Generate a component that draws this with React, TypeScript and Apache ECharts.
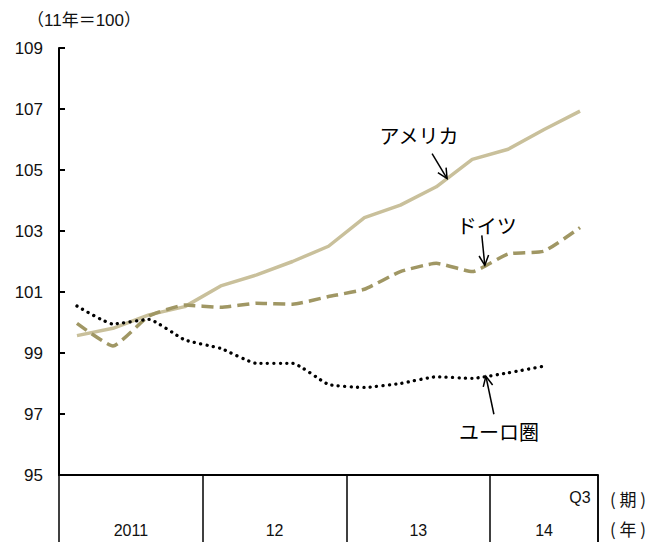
import React, { useEffect, useRef } from "react";
import * as echarts from "echarts";

// Quarterly index (2011 = 100), 2011Q1 .. 2014Q3
const quarters = [
  "Q1", "Q2", "Q3", "Q4",
  "Q1", "Q2", "Q3", "Q4",
  "Q1", "Q2", "Q3", "Q4",
  "Q1", "Q2", "Q3",
];
const years = ["2011", "12", "13", "14"];
const yearQuarterCount = [4, 4, 4, 3];

const usa = [99.57, 99.81, 100.25, 100.52, 101.2, 101.56, 102.0, 102.5, 103.44, 103.85, 104.45, 105.35, 105.68, 106.33, 106.93];
const germany = [99.97, 99.23, 100.21, 100.57, 100.5, 100.63, 100.6, 100.85, 101.09, 101.67, 101.94, 101.67, 102.25, 102.34, 103.11];
const euroArea = [100.54, 99.95, 100.1, 99.43, 99.15, 98.66, 98.66, 97.97, 97.87, 98.0, 98.22, 98.17, 98.35, 98.57];

const yMin = 95;
const yMax = 109;
const yStep = 2;

const FONT = "'Liberation Sans', 'Noto Sans CJK JP', sans-serif";
const JP_FONT = "'Noto Sans CJK JP', 'Liberation Sans', sans-serif";
const USA_COLOR = "#c9c09b";
const GER_COLOR = "#a09764";

export default function App() {
  const ref = useRef<HTMLDivElement>(null);

  useEffect(() => {
    if (!ref.current) return;
    const chart = echarts.init(ref.current, null, { renderer: "svg" });

    chart.setOption({
      animation: false,
      grid: { left: 59, right: 49, top: 48, bottom: 67, containLabel: false },
      xAxis: {
        type: "category",
        data: quarters,
        boundaryGap: true,
        axisLine: { show: true, lineStyle: { color: "#000", width: 2 } },
        axisTick: {
          show: true,
          inside: false,
          length: 70,
          interval: (i: number) => i % 4 === 0,
          lineStyle: { color: "#000", width: 1.5 },
        },
        axisLabel: {
          show: true,
          interval: (i: number) => i === quarters.length - 1,
          margin: 14,
          fontSize: 16,
          color: "#111",
          fontFamily: FONT,
        },
        splitLine: { show: false },
      },
      yAxis: {
        type: "value",
        min: yMin,
        max: yMax,
        interval: yStep,
        axisLine: { show: true, lineStyle: { color: "#000", width: 2 } },
        axisTick: { show: true, inside: true, length: 6, lineStyle: { color: "#000", width: 2 } },
        axisLabel: { fontSize: 17, color: "#111", margin: 16, fontFamily: FONT },
        splitLine: { show: false },
      },
      series: [
        {
          name: "アメリカ",
          type: "line",
          data: usa,
          symbol: "none",
          lineStyle: { color: USA_COLOR, width: 3.5 },
          z: 3,
        },
        {
          name: "ドイツ",
          type: "line",
          data: germany,
          symbol: "none",
          smooth: 0.15,
          lineStyle: { color: GER_COLOR, width: 3.5, type: [12, 6] },
          z: 4,
        },
        {
          name: "ユーロ圏",
          type: "line",
          data: euroArea,
          symbol: "none",
          smooth: 0.15,
          lineStyle: { color: "#000", width: 3.3, type: [0.1, 6.3], cap: "round" },
          z: 5,
        },
      ],
    });

    // pixel position along a series at a fractional category index
    const along = (series: number[], f: number): number[] => {
      const i = Math.floor(f);
      const t = f - i;
      const a = chart.convertToPixel({ gridIndex: 0 }, [i, series[i]]) as number[];
      const b = chart.convertToPixel({ gridIndex: 0 }, [i + 1, series[i + 1]]) as number[];
      return [a[0] + (b[0] - a[0]) * t, a[1] + (b[1] - a[1]) * t];
    };

    const arrow = (tip: number[], dx: number, dy: number) => {
      const tail = [tip[0] + dx, tip[1] + dy];
      const ang = Math.atan2(tip[1] - tail[1], tip[0] - tail[0]);
      const len = 11;
      const spread = 0.45;
      const h1 = [tip[0] - len * Math.cos(ang - spread), tip[1] - len * Math.sin(ang - spread)];
      const h2 = [tip[0] - len * Math.cos(ang + spread), tip[1] - len * Math.sin(ang + spread)];
      const style = { stroke: "#000", lineWidth: 1.5, fill: null };
      return [
        { type: "line", shape: { x1: tail[0], y1: tail[1], x2: tip[0], y2: tip[1] }, style, z: 10 },
        { type: "polyline", shape: { points: [h1, tip, h2] }, style, z: 10 },
      ];
    };

    const label = (text: string, x: number, y: number, size = 20) => ({
      type: "text",
      x,
      y,
      style: {
        text,
        fontSize: size,
        fontFamily: JP_FONT,
        fill: "#000",
        align: "center",
        verticalAlign: "middle",
      },
      z: 10,
    });

    const usaTip = along(usa, 10.3);
    const gerTip = along(germany, 11.35);
    const euroTip = along(euroArea, 11.38);

    // year labels centred under each year's block of quarters
    const bottomY = (chart.convertToPixel({ gridIndex: 0 }, [0, yMin]) as number[])[1];
    const yearTexts: any[] = [];
    let start = 0;
    years.forEach((yr, k) => {
      const n = yearQuarterCount[k];
      const a = (chart.convertToPixel({ gridIndex: 0 }, [start, yMin]) as number[])[0];
      const b = (chart.convertToPixel({ gridIndex: 0 }, [start + n - 1, yMin]) as number[])[0];
      yearTexts.push({
        type: "text",
        x: (a + b) / 2,
        y: bottomY + 55,
        style: { text: yr, fontSize: 16, fontFamily: FONT, fill: "#111", align: "center", verticalAlign: "middle" },
      });
      start += n;
    });

    const lastX = (chart.convertToPixel({ gridIndex: 0 }, [quarters.length - 1, yMin]) as number[])[0];
    const rightEdge = lastX + (lastX - (chart.convertToPixel({ gridIndex: 0 }, [quarters.length - 2, yMin]) as number[])[0]) / 2;

    chart.setOption({
      graphic: [
        {
          type: "text",
          x: 84,
          y: 20,
          style: { text: "（11年＝100）", fontSize: 17, fontFamily: FONT, fill: "#111", align: "center", verticalAlign: "middle" },
        },
        ...arrow(usaTip, -15, -25),
        label("アメリカ", usaTip[0] - 28, usaTip[1] - 43),
        ...arrow(gerTip, -3, -30),
        label("ドイツ", gerTip[0] + 2, gerTip[1] - 40),
        ...arrow(euroTip, 8, 38),
        label("ユーロ圏", euroTip[0] + 13, euroTip[1] + 55),
        {
          type: "line",
          shape: { x1: rightEdge, y1: bottomY, x2: rightEdge, y2: bottomY + 80 },
          style: { stroke: "#000", lineWidth: 1.5 },
        },
        ...yearTexts,
        {
          type: "text",
          x: rightEdge + 30,
          y: bottomY + 23,
          style: { text: "( 期 )", fontSize: 17, fontFamily: JP_FONT, fill: "#111", align: "center", verticalAlign: "middle" },
        },
        {
          type: "text",
          x: rightEdge + 30,
          y: bottomY + 53,
          style: { text: "( 年 )", fontSize: 17, fontFamily: JP_FONT, fill: "#111", align: "center", verticalAlign: "middle" },
        },
      ],
    });

    return () => chart.dispose();
  }, []);

  return <div ref={ref} style={{ width: 647, height: 542, position: "absolute", left: 0, top: 0 }} />;
}
